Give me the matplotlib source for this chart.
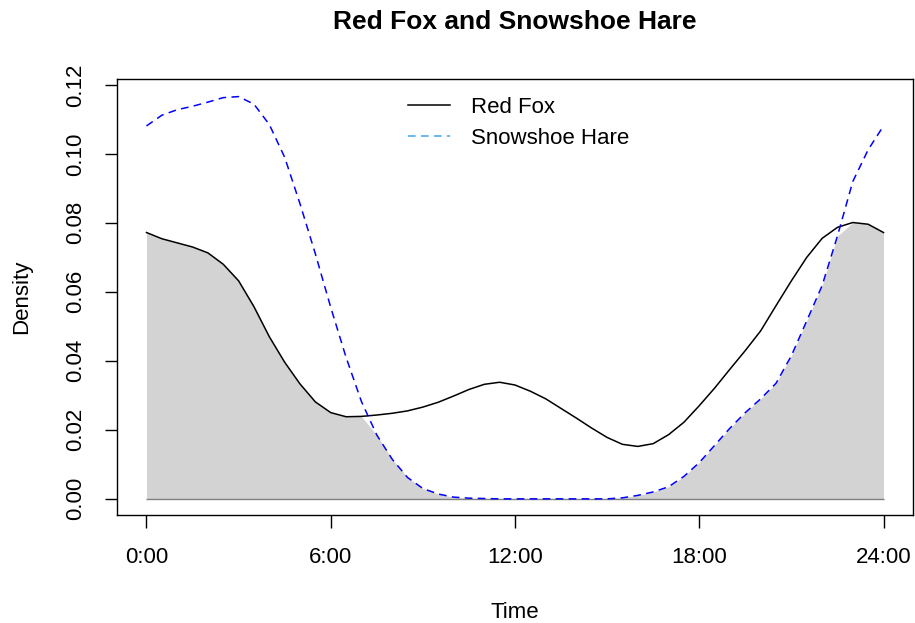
import matplotlib.pyplot as plt
import numpy as np

plt.rcParams['font.family'] = ['Liberation Sans', 'DejaVu Sans']

# Time of day (hours) and kernel density estimates
hours = [0.0, 0.5, 1.0, 1.5, 2.0, 2.5, 3.0, 3.5, 4.0, 4.5, 5.0, 5.5, 6.0,
         6.5, 7.0, 7.5, 8.0, 8.5, 9.0, 9.5, 10.0, 10.5, 11.0, 11.5, 12.0,
         12.5, 13.0, 13.5, 14.0, 14.5, 15.0, 15.5, 16.0, 16.5, 17.0, 17.5,
         18.0, 18.5, 19.0, 19.5, 20.0, 20.5, 21.0, 21.5, 22.0, 22.5, 23.0,
         23.5, 24.0]
red_fox = [0.0772, 0.0754, 0.0742, 0.0730, 0.0713, 0.0680, 0.0632, 0.0557,
           0.0470, 0.0396, 0.0333, 0.0281, 0.0250, 0.0238, 0.0239, 0.0243,
           0.0248, 0.0255, 0.0266, 0.0280, 0.0298, 0.0317, 0.0332, 0.0338,
           0.0330, 0.0312, 0.0290, 0.0262, 0.0234, 0.0205, 0.0178, 0.0158,
           0.0152, 0.0160, 0.0186, 0.0222, 0.0270, 0.0321, 0.0376, 0.0430,
           0.0487, 0.0560, 0.0632, 0.0700, 0.0755, 0.0787, 0.0801, 0.0796,
           0.0772]
snowshoe_hare = [0.1081, 0.1112, 0.1128, 0.1138, 0.1150, 0.1163, 0.1166,
                 0.1144, 0.1085, 0.0990, 0.0855, 0.0710, 0.0555, 0.0410,
                 0.0282, 0.0185, 0.0115, 0.0062, 0.0030, 0.0014, 0.0005,
                 0.0002, 0.0001, 0.0, 0.0, 0.0, 0.0, 0.0, 0.0, 0.0, 0.0,
                 0.0003, 0.0010, 0.0020, 0.0035, 0.0065, 0.0105, 0.0155,
                 0.0205, 0.0250, 0.0290, 0.0335, 0.0415, 0.0516, 0.0618,
                 0.0762, 0.0920, 0.1012, 0.1081]
tick_hours = [0, 6, 12, 18, 24]
tick_labels = ['0:00', '6:00', '12:00', '18:00', '24:00']
y_ticks = [0.00, 0.02, 0.04, 0.06, 0.08, 0.10, 0.12]

x = np.array(hours)
fox = np.array(red_fox)
hare = np.array(snowshoe_hare)

fig = plt.figure(figsize=(9.15, 6.23), dpi=100)
ax = fig.add_axes([117 / 915, 108 / 623, 796 / 915, 436 / 623])

# overlap area
ax.fill_between(x, 0, np.minimum(fox, hare), color='#D3D3D3', linewidth=0)
ax.hlines(0, 0, 24, color='#808080', linewidth=1)

ax.plot(x, fox, color='black', linewidth=1.1, label='Red Fox')
ax.plot(x, hare, color='blue', linewidth=1.1, linestyle=(0, (5, 3.5)))
# legend entry uses a lighter blue
ax.plot([], [], color='#3DA5F2', linewidth=1.1, linestyle=(0, (5, 3.5)),
        label='Snowshoe Hare')

ax.set_xlim(-0.96, 24.96)
ax.set_ylim(-0.00468, 0.1217)
ax.set_xticks(tick_hours)
ax.set_xticklabels(tick_labels)
ax.set_yticks(y_ticks)
ax.set_yticklabels([f'{v:.2f}' for v in y_ticks], rotation=90, va='center')
ax.tick_params(axis='both', labelsize=16, length=9, width=1, direction='out')
ax.tick_params(axis='x', pad=14)
ax.tick_params(axis='y', pad=13)
for s in ax.spines.values():
    s.set_linewidth(1)

ax.legend(loc='upper left', bbox_to_anchor=(408 / 915, 1 - 97 / 623),
          bbox_transform=fig.transFigure, frameon=False, fontsize=16,
          handlelength=1.9, handletextpad=0.95, labelspacing=0.45,
          borderpad=0, borderaxespad=0)

fig.text(515 / 915, 1 - 22 / 623, 'Red Fox and Snowshoe Hare',
         ha='center', va='center', fontsize=19, fontweight='bold')
fig.text(515 / 915, 1 - 612 / 623, 'Time', ha='center', va='center',
         fontsize=16)
fig.text(22 / 915, 1 - 297 / 623, 'Density', ha='center', va='center',
         rotation=90, fontsize=16)

plt.savefig('out.png', dpi=100)
plt.close()
